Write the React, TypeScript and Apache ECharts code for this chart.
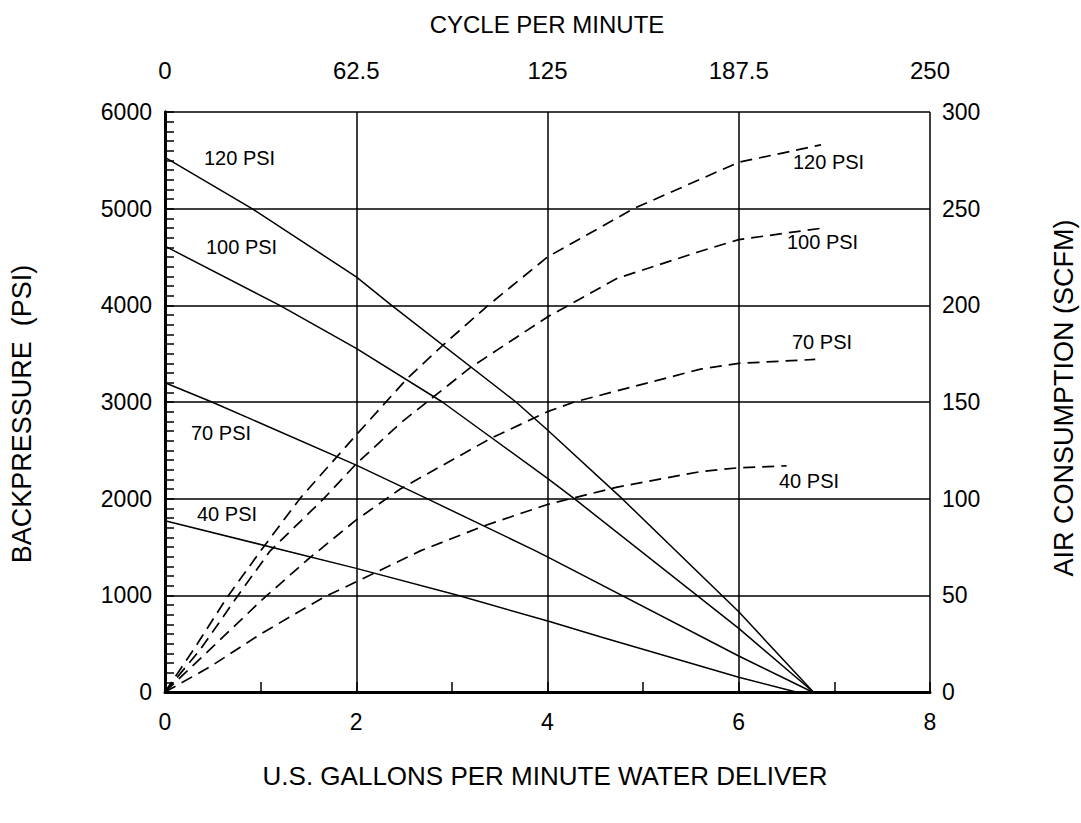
import React, { useEffect, useRef } from "react";
import * as echarts from "echarts";

const FONT = "'Liberation Sans', Arial, sans-serif";

const bp120 = [[0, 5530], [0.91, 5000], [2, 4295], [2.37, 4000], [3.67, 3000], [4, 2710], [4.78, 2000], [6, 830], [6.78, 0]];
const bp100 = [[0, 4612], [1.2, 4000], [2, 3554], [2.9, 3000], [4, 2210], [4.28, 2000], [6, 658], [6.78, 0]];
const bp70 = [[0, 3199], [0.49, 3000], [2, 2347], [2.74, 2000], [3.86, 1468], [4.03, 1382], [6, 372], [6.77, 0]];
const bp40 = [[0, 1772], [2, 1279], [3.06, 1000], [4.03, 727], [4.55, 572], [6, 152], [6.6, 0]];

const air120 = [[0, 0], [0.3, 22], [0.65, 49], [1.0, 73], [1.41, 100], [2, 133], [2.53, 162], [2.92, 180], [3.38, 200], [4, 225], [4.9, 250], [6, 274], [6.86, 283]];
const air100 = [[0, 0], [0.37, 22], [0.75, 49], [1.1, 73], [1.66, 100], [2, 118], [2.46, 139], [2.79, 152], [3.2, 168], [4, 194], [4.73, 214], [5.6, 228], [6, 234], [6.88, 240]];
const air70 = [[0, 0], [0.47, 22], [1.0, 47], [1.48, 68], [2, 89], [2.46, 105], [3.4, 131], [4, 145], [4.28, 150], [5.6, 167], [6, 170], [6.8, 172]];
const air40 = [[0, 0], [0.47, 13], [1.0, 30], [1.66, 49], [2, 57], [2.67, 73], [3.34, 86], [4, 97], [4.73, 106], [5.6, 114], [6, 116], [6.5, 117]];

const leftLabels = ["120 PSI", "100 PSI", "70 PSI", "40 PSI"];
const rightLabels = ["120 PSI", "100 PSI", "70 PSI", "40 PSI"];

export default function App() {
  const ref = useRef<HTMLDivElement>(null);
  useEffect(() => {
    if (!ref.current) return;
    const chart = echarts.init(ref.current, null, { renderer: "svg" });
    const solid = (data: number[][]) => ({
      type: "line",
      data,
      xAxisIndex: 0,
      yAxisIndex: 0,
      showSymbol: false,
      smooth: false,
      lineStyle: { color: "#000", width: 1.5 },
      silent: true,
    });
    const dashed = (data: number[][]) => ({
      type: "line",
      data,
      xAxisIndex: 0,
      yAxisIndex: 1,
      showSymbol: false,
      smooth: false,
      lineStyle: { color: "#000", width: 1.7, type: [12, 7] },
      silent: true,
    });
    const txt = (x: number, y: number, s: string, size = 20, extra: any = {}) => ({
      type: "text",
      x,
      y,
      ...extra,
      style: {
        text: s,
        fill: "#000",
        fontSize: size,
        fontFamily: FONT,
        verticalAlign: "middle",
        ...(extra.style || {}),
      },
    });
    const plain = (v: number) => String(v);
    const lbl = { color: "#000", fontSize: 23, fontFamily: FONT };
    chart.setOption({
      animation: false,
      backgroundColor: "#fff",
      grid: { left: 165, right: 151, top: 112, bottom: 131, containLabel: false },
      xAxis: [
        {
          type: "value",
          min: 0,
          max: 8,
          interval: 2,
          position: "bottom",
          axisLine: { show: true, lineStyle: { color: "#000", width: 3 } },
          axisTick: { show: true, inside: true, length: 10, lineStyle: { color: "#000", width: 1.5 } },
          minorTick: { show: true, splitNumber: 2, length: 10, lineStyle: { color: "#000", width: 1.5 } },
          splitLine: { show: true, lineStyle: { color: "#000", width: 1.5 } },
          axisLabel: { ...lbl, margin: 18, formatter: plain },
        },
        {
          type: "value",
          min: 0,
          max: 250,
          interval: 62.5,
          position: "top",
          axisLine: { show: true, lineStyle: { color: "#000", width: 2 } },
          axisTick: { show: false },
          splitLine: { show: false },
          axisLabel: { ...lbl, fontSize: 24, margin: 30, formatter: plain },
        },
      ],
      yAxis: [
        {
          type: "value",
          min: 0,
          max: 6000,
          interval: 1000,
          position: "left",
          axisLine: { show: true, lineStyle: { color: "#000", width: 3 } },
          axisTick: { show: true, inside: true, length: 9, lineStyle: { color: "#000", width: 1.5 } },
          minorTick: { show: true, splitNumber: 10, length: 9, lineStyle: { color: "#000", width: 1.5 } },
          splitLine: { show: true, lineStyle: { color: "#000", width: 1.5 } },
          axisLabel: { ...lbl, margin: 13, formatter: plain },
        },
        {
          type: "value",
          min: 0,
          max: 300,
          interval: 50,
          position: "right",
          axisLine: { show: true, lineStyle: { color: "#000", width: 3 } },
          axisTick: { show: false },
          splitLine: { show: false },
          axisLabel: { ...lbl, margin: 12, formatter: plain },
        },
      ],
      series: [
        solid(bp120),
        solid(bp100),
        solid(bp70),
        solid(bp40),
        dashed(air120),
        dashed(air100),
        dashed(air70),
        dashed(air40),
      ],
      graphic: [
        txt(547, 24, "CYCLE PER MINUTE", 24, { style: { align: "center" } }),
        txt(545, 776, "U.S. GALLONS PER MINUTE WATER DELIVER", 26, { style: { align: "center" } }),
        txt(22, 414, "BACKPRESSURE  (PSI)", 27, { rotation: Math.PI / 2, style: { align: "center" } }),
        txt(1064, 398, "AIR CONSUMPTION (SCFM)", 27, { rotation: Math.PI / 2, style: { align: "center" } }),
        txt(204, 158, leftLabels[0]),
        txt(206, 247, leftLabels[1]),
        txt(191, 433, leftLabels[2]),
        txt(197, 514, leftLabels[3]),
        txt(793, 162, rightLabels[0]),
        txt(787, 242, rightLabels[1]),
        txt(792, 342, rightLabels[2]),
        txt(779, 481, rightLabels[3]),
      ],
    });
    return () => chart.dispose();
  }, []);
  return <div ref={ref} style={{ position: "fixed", left: 0, top: 0, width: 1081, height: 823 }} />;
}
